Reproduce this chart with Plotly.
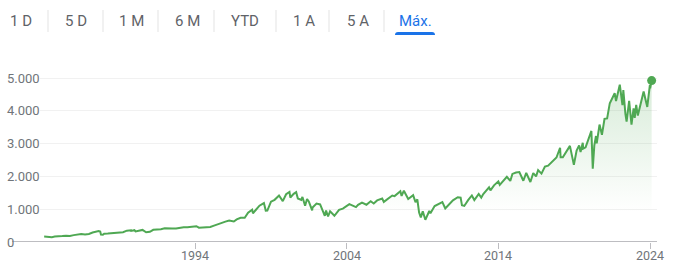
import plotly.graph_objects as go

# ---- data ----
dates = [
"1984-01-20","1984-04-01","1984-07-24","1984-10-01","1985-01-02","1985-04-01","1985-07-01","1985-10-01",
"1986-01-02","1986-04-01","1986-07-01","1986-10-01","1987-01-02","1987-04-01","1987-08-25","1987-10-01",
"1987-10-19","1987-12-04","1988-01-04","1988-04-01","1988-07-01","1988-10-03","1989-01-03","1989-04-03",
"1989-07-03","1989-10-09","1989-10-16","1990-01-02","1990-01-30","1990-04-02","1990-07-16","1990-10-11",
"1991-01-09","1991-04-01","1991-07-01","1991-10-01","1992-01-02","1992-04-01","1992-07-01","1992-10-01",
"1993-01-04","1993-04-01","1993-07-01","1993-10-01","1994-02-02","1994-04-04","1994-07-01","1994-10-03",
"1995-01-03","1995-04-03","1995-07-03","1995-10-02","1996-01-02","1996-04-01","1996-07-23","1996-10-01",
"1997-01-02","1997-04-11","1997-07-01","1997-10-07","1997-10-27","1998-01-02","1998-04-01","1998-07-17",
"1998-08-31","1998-10-08","1999-01-04","1999-04-01","1999-07-16","1999-10-15","2000-01-03","2000-03-24",
"2000-04-14","2000-07-03","2000-09-01","2000-10-12","2001-01-02","2001-01-30","2001-04-04","2001-05-21",
"2001-07-02","2001-09-21","2001-10-01","2002-01-04","2002-04-01","2002-07-23","2002-08-22","2002-10-09",
"2002-11-27","2003-03-11","2003-07-01","2003-10-01","2004-01-02","2004-03-05","2004-08-12","2004-10-01",
"2005-01-03","2005-04-20","2005-08-01","2005-10-13","2006-01-03","2006-05-05","2006-06-13","2006-10-02",
"2007-01-03","2007-02-27","2007-07-16","2007-08-15","2007-10-09","2008-01-22","2008-05-19","2008-07-15",
"2008-08-28","2008-10-10","2008-11-20","2009-01-06","2009-03-09","2009-06-12","2009-07-10","2009-10-19",
"2010-01-19","2010-04-23","2010-07-02","2010-10-01","2011-01-03","2011-04-29","2011-07-07","2011-08-08",
"2011-10-03","2012-01-03","2012-04-02","2012-06-01","2012-09-14","2012-11-15","2013-01-02","2013-05-21",
"2013-06-24","2013-09-18","2013-12-31","2014-02-03","2014-07-24","2014-10-15","2014-12-05","2015-03-02",
"2015-05-21","2015-08-25","2015-11-03","2016-02-11","2016-04-20","2016-06-27","2016-08-15","2016-11-04",
"2017-01-26","2017-04-13","2017-07-27","2017-10-31","2018-01-26","2018-02-08","2018-04-02","2018-07-25",
"2018-09-20","2018-12-24","2019-02-28","2019-04-30","2019-06-03","2019-07-26","2019-08-05","2019-10-02",
"2019-12-31","2020-02-19","2020-03-23","2020-04-29","2020-06-08","2020-06-26","2020-09-02","2020-10-30",
"2020-12-31","2021-03-04","2021-05-07","2021-07-23","2021-09-02","2021-10-04","2021-12-29","2022-01-03",
"2022-03-08","2022-03-29","2022-05-19","2022-06-16","2022-08-16","2022-09-30","2022-10-12","2022-12-01",
"2022-12-28","2023-02-02","2023-03-13","2023-07-31","2023-10-27","2023-12-28","2024-01-04","2024-02-09",
]
values = [
166,160,148,166,165,180,191,185,
210,235,245,232,246,290,336,320,
225,223,255,258,272,278,285,300,
345,359,337,359,322,339,368,295,
311,371,377,389,417,404,412,410,
435,450,448,461,482,438,446,461,
459,501,547,581,620,653,626,689,
737,737,891,983,877,975,1108,1186,
957,959,1228,1286,1418,1247,1455,1527,
1356,1469,1520,1329,1283,1373,1103,1312,
1236,966,1051,1172,1146,797,962,777,
938,800,982,1018,1109,1156,1064,1131,
1202,1137,1245,1176,1268,1325,1223,1331,
1416,1399,1549,1406,1565,1310,1426,1214,
1300,899,752,935,677,946,879,1097,
1150,1217,1022,1146,1272,1364,1353,1119,
1099,1277,1419,1278,1466,1353,1462,1669,
1573,1726,1848,1742,1988,1862,2075,2117,
2131,1868,2109,1829,2102,2001,2190,2085,
2298,2329,2475,2575,2873,2581,2582,2846,
2931,2351,2784,2946,2744,3026,2845,2888,
3231,3386,2237,2940,3232,3009,3580,3270,
3756,3768,4232,4411,4537,4300,4793,4797,
4170,4632,3901,3667,4305,3586,3577,4077,
3783,4179,3855,4589,4117,4783,4688,4920,
]
y_tick_values = [0, 1000, 2000, 3000, 4000, 5000]
y_tick_labels = ["0", "1.000", "2.000", "3.000", "4.000", "5.000"]
x_tick_values = ["1994-01-01", "2004-01-01", "2014-01-01", "2024-01-01"]
x_tick_labels = ["1994", "2004", "2014", "2024"]
tabs = ["1 D", "5 D", "1 M", "6 M", "YTD", "1 A", "5 A", "Máx."]
active_tab = "Máx."

# ---- style / layout helpers ----
W, H = 684, 280
PL, PR, PT, PB = 40, 657, 60, 242   # plot area in pixels
GREEN = "#4fa853"
GRAY_TXT = "#70757a"
FONT = "Roboto, Arial, sans-serif"

def px_x(px):
    return (px - PL) / (PR - PL)

def px_y(py):
    return (PB - py) / (PB - PT)

fig = go.Figure()
fig.add_trace(go.Scatter(
    x=dates, y=values, mode="lines",
    line=dict(color=GREEN, width=2),
    fill="tozeroy",
    fillgradient=dict(type="vertical", start=900, stop=4900,
                      colorscale=[[0, "rgba(79,168,83,0)"], [1, "rgba(79,168,83,0.22)"]]),
    hoverinfo="skip", showlegend=False,
))
fig.add_trace(go.Scatter(
    x=[dates[-1]], y=[values[-1]], mode="markers",
    marker=dict(color=GREEN, size=9), cliponaxis=False,
    hoverinfo="skip", showlegend=False,
))

shapes = []
annotations = []
# baseline axis line (extends under the "0" label)
shapes.append(dict(type="line", xref="paper", yref="y", x0=px_x(12), x1=1, y0=0, y1=0,
                   line=dict(color="#bdbdc1", width=2), layer="above"))
# y labels, left aligned
for v, t in zip(y_tick_values, y_tick_labels):
    annotations.append(dict(xref="paper", yref="y", x=px_x(5), y=v, text=t, showarrow=False,
                            xanchor="left", yanchor="middle",
                            font=dict(family=FONT, size=13, color=GRAY_TXT)))
# x labels
for v, t in zip(x_tick_values, x_tick_labels):
    annotations.append(dict(xref="x", yref="paper", x=v, y=px_y(255.5), text=t, showarrow=False,
                            xanchor="center", yanchor="middle",
                            font=dict(family=FONT, size=12.5, color=GRAY_TXT)))

# tabs
tab_centers = [21, 76, 131, 187, 245, 304, 358, 415]
sep_x = [48, 103, 158, 214, 276, 329, 384]
for t, cx in zip(tabs, tab_centers):
    col = "#1a73e8" if t == active_tab else "#5f6368"
    annotations.append(dict(xref="paper", yref="paper", x=px_x(cx), y=px_y(20.5), text=t,
                            showarrow=False, xanchor="center", yanchor="middle",
                            font=dict(family=FONT, size=15, color=col)))
for sx in sep_x:
    shapes.append(dict(type="line", xref="paper", yref="paper", x0=px_x(sx), x1=px_x(sx),
                       y0=px_y(10), y1=px_y(32), line=dict(color="#e3e3e3", width=1)))
# active underline with rounded top
ux0, ux1, uy0, uy1, r = 395, 435, 32, 35, 3
path = (f"M {px_x(ux0)},{px_y(uy1)} L {px_x(ux0)},{px_y(uy0 + r)} "
        f"Q {px_x(ux0)},{px_y(uy0)} {px_x(ux0 + r)},{px_y(uy0)} "
        f"L {px_x(ux1 - r)},{px_y(uy0)} Q {px_x(ux1)},{px_y(uy0)} {px_x(ux1)},{px_y(uy0 + r)} "
        f"L {px_x(ux1)},{px_y(uy1)} Z")
shapes.append(dict(type="path", xref="paper", yref="paper", path=path,
                   fillcolor="#1a73e8", line=dict(width=0)))

fig.update_layout(
    width=W, height=H,
    margin=dict(l=PL, r=W - PR, t=PT, b=H - PB),
    paper_bgcolor="white", plot_bgcolor="white",
    font=dict(family=FONT, size=13, color=GRAY_TXT),
    shapes=shapes, annotations=annotations,
    xaxis=dict(
        type="date", range=["1983-10-12", "2024-06-17"],
        tickvals=x_tick_values, showticklabels=False,
        ticks="outside", ticklen=6, tickwidth=1, tickcolor="#bdbdc1",
        showgrid=False, zeroline=False, showline=False,
    ),
    yaxis=dict(
        range=[0, (PB - PT) / 0.0328],
        tickvals=y_tick_values, showticklabels=False,
        showgrid=True, gridcolor="#f1f1f1", gridwidth=1,
        zeroline=False, showline=False, ticks="",
    ),
)

fig.write_html("out.html")
